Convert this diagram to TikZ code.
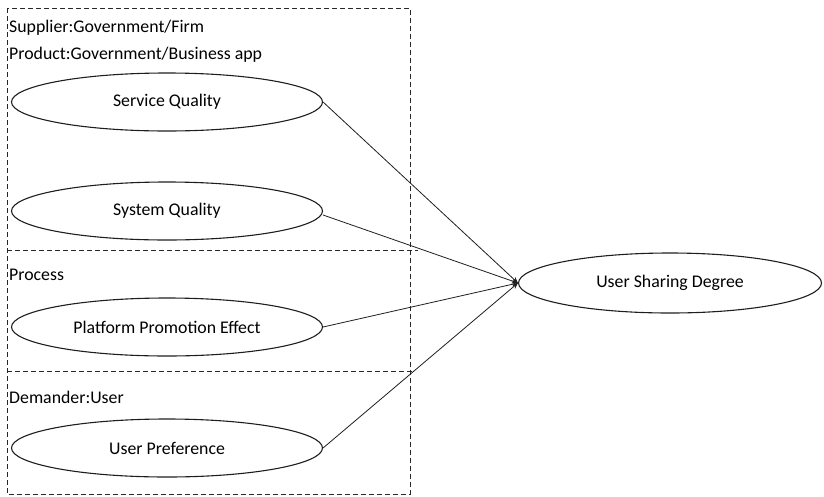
\documentclass[tikz,border=0pt]{standalone}
\usepackage{fontspec}
\setmainfont{Carlito}
\usetikzlibrary{shapes.geometric, arrows.meta, positioning}
\definecolor{linegray}{RGB}{30,30,30}
\definecolor{boxgray}{RGB}{40,40,40}
\tikzset{
  fac/.style={ellipse, draw=linegray, line width=1.1pt, minimum width=311pt,
    minimum height=58pt, inner sep=0pt, text centered, font=\fontsize{17.8}{20}\selectfont},
  grp/.style={draw=boxgray, line width=0.9pt, dash pattern=on 5pt off 3pt},
  lbl/.style={anchor=west, inner sep=0pt, font=\fontsize{17.8}{20}\selectfont},
  arrow/.style={-{Stealth[length=6pt, width=5pt, open]}, line width=0.8pt, linegray}
}
\begin{document}
\begin{tikzpicture}[x=1pt, y=-1pt]
  \useasboundingbox (0,0) rectangle (824,496);
  % dashed groups
  \draw[grp] (7,8) rectangle (410,494);
  \draw[grp] (7,250) -- (418,250);
  \draw[grp] (7,371) -- (412,371);
  % group titles
  \node[lbl] (tsup) at (9,28) {Supplier:Government/Firm};
  \node[lbl] (tprod) at (9,55) {Product:Government/Business app};
  \node[lbl] (tproc) at (9,275) {Process};
  \node[lbl] (tdem) at (9,397) {Demander:User};
  % factors
  \node[fac] (serv) at (167,102) {Service Quality};
  \node[fac] (sys) at (167,211) {System Quality};
  \node[fac] (prom) at (167,327) {Platform Promotion Effect};
  \node[fac] (pref) at (167,448) {User Preference};
  \node[fac, minimum width=303pt, minimum height=60pt] (share) at (670,283) {User Sharing Degree};
  % paths
  \draw[arrow] (serv.east) -- (share.west);
  \draw[arrow] ([yshift=-4pt]sys.east) -- (share.west);
  \draw[arrow] (prom.east) -- (share.west);
  \draw[arrow] (pref.east) -- (share.west);
\end{tikzpicture}
\end{document}
